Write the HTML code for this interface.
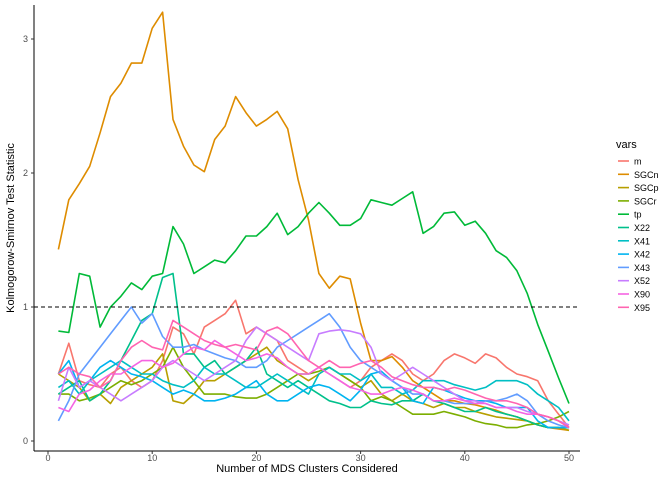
<!DOCTYPE html>
<html><head><meta charset="utf-8"><style>
html,body{margin:0;padding:0;background:#fff;}
svg{display:block;font-family:"Liberation Sans",sans-serif;}
</style></head><body>
<svg id="chart" width="672" height="480" viewBox="0 0 672 480">
<rect width="672" height="480" fill="#fff"/>
<g id="series"></g>
<g id="axes"></g>
<g id="legend"></g>
<text x="307" y="472" font-size="11" text-anchor="middle" fill="#000">Number of MDS Clusters Considered</text>
<text transform="translate(14,228) rotate(-90)" font-size="11" text-anchor="middle" fill="#000">Kolmogorow-Smirnov Test Statistic</text>
</svg>
<script>
const seriesNames = ["m","SGCn","SGCp","SGCr","tp","X22","X41","X42","X43","X52","X90","X95"];
const seriesColors = ["#F8766D","#DE8C00","#B79F00","#7CAE00","#00BA38","#00C08B","#00BFC4","#00B4F0","#619CFF","#C77CFF","#F564E3","#FF64B0"];
const xTicks = [0,10,20,30,40,50];
const yTicks = [0,1,2,3];
const threshold = 1;
const m = [0.5,0.73,0.45,0.42,0.4,0.5,0.55,0.45,0.4,0.45,0.6,0.85,0.8,0.65,0.85,0.9,0.95,1.05,0.8,0.85,0.8,0.75,0.6,0.55,0.5,0.55,0.5,0.45,0.4,0.45,0.55,0.6,0.65,0.6,0.5,0.45,0.5,0.6,0.65,0.62,0.58,0.65,0.62,0.55,0.5,0.48,0.45,0.3,0.2,0.1];
const SGCn = [1.43,1.8,1.92,2.05,2.3,2.57,2.67,2.82,2.82,3.08,3.2,2.4,2.2,2.06,2.01,2.25,2.35,2.57,2.45,2.35,2.4,2.46,2.33,1.95,1.65,1.25,1.14,1.23,1.21,0.88,0.6,0.6,0.63,0.55,0.45,0.4,0.35,0.3,0.3,0.28,0.27,0.25,0.23,0.2,0.18,0.15,0.12,0.1,0.09,0.08];
const SGCp = [0.5,0.45,0.4,0.3,0.35,0.28,0.4,0.45,0.5,0.55,0.65,0.3,0.28,0.35,0.45,0.45,0.5,0.55,0.6,0.65,0.7,0.6,0.55,0.5,0.45,0.5,0.55,0.5,0.45,0.4,0.45,0.35,0.3,0.35,0.3,0.28,0.25,0.28,0.25,0.25,0.22,0.2,0.18,0.17,0.16,0.15,0.12,0.1,0.1,0.08];
const SGCr = [0.35,0.35,0.3,0.32,0.35,0.4,0.45,0.42,0.45,0.5,0.55,0.7,0.55,0.45,0.35,0.35,0.35,0.33,0.32,0.32,0.35,0.4,0.45,0.5,0.5,0.52,0.55,0.5,0.45,0.4,0.3,0.33,0.3,0.25,0.2,0.2,0.2,0.22,0.2,0.18,0.15,0.13,0.12,0.1,0.1,0.12,0.13,0.15,0.18,0.22];
const tp = [0.82,0.81,1.25,1.23,0.85,1.0,1.08,1.18,1.13,1.23,1.25,1.6,1.47,1.25,1.3,1.35,1.33,1.42,1.53,1.53,1.6,1.7,1.54,1.6,1.7,1.78,1.7,1.61,1.61,1.66,1.8,1.78,1.76,1.81,1.86,1.55,1.6,1.7,1.71,1.61,1.64,1.55,1.42,1.37,1.27,1.1,0.87,0.67,0.47,0.28];
const X22 = [0.35,0.4,0.45,0.3,0.35,0.45,0.6,0.75,0.9,0.95,1.22,1.25,0.65,0.65,0.55,0.6,0.5,0.55,0.6,0.7,0.5,0.45,0.4,0.45,0.4,0.35,0.3,0.28,0.25,0.25,0.3,0.28,0.27,0.3,0.3,0.35,0.3,0.28,0.25,0.22,0.22,0.25,0.22,0.2,0.18,0.15,0.12,0.1,0.1,0.1];
const X41 = [0.4,0.45,0.35,0.45,0.5,0.55,0.6,0.55,0.5,0.5,0.45,0.42,0.4,0.45,0.55,0.5,0.5,0.45,0.4,0.4,0.45,0.5,0.45,0.4,0.35,0.5,0.55,0.5,0.5,0.45,0.5,0.4,0.4,0.35,0.38,0.45,0.45,0.45,0.42,0.4,0.38,0.4,0.45,0.45,0.45,0.42,0.35,0.3,0.25,0.15];
const X42 = [0.5,0.6,0.4,0.45,0.55,0.6,0.55,0.5,0.48,0.45,0.4,0.35,0.38,0.35,0.3,0.3,0.32,0.35,0.4,0.45,0.35,0.3,0.3,0.35,0.4,0.42,0.4,0.35,0.3,0.38,0.5,0.52,0.45,0.4,0.3,0.28,0.4,0.38,0.35,0.32,0.3,0.3,0.28,0.25,0.25,0.25,0.15,0.1,0.1,0.1];
const X43 = [0.15,0.3,0.5,0.6,0.7,0.8,0.9,1.0,0.88,0.95,0.78,0.7,0.7,0.72,0.68,0.65,0.62,0.6,0.55,0.55,0.6,0.7,0.75,0.8,0.85,0.9,0.95,0.85,0.7,0.6,0.55,0.5,0.45,0.4,0.35,0.35,0.3,0.3,0.28,0.28,0.28,0.3,0.3,0.32,0.35,0.3,0.2,0.15,0.12,0.1];
const X52 = [0.3,0.55,0.4,0.45,0.4,0.35,0.3,0.35,0.4,0.45,0.55,0.6,0.55,0.5,0.45,0.5,0.55,0.6,0.75,0.85,0.8,0.75,0.7,0.65,0.6,0.8,0.82,0.83,0.82,0.8,0.7,0.5,0.45,0.5,0.55,0.5,0.45,0.4,0.35,0.3,0.3,0.28,0.25,0.25,0.25,0.22,0.2,0.18,0.15,0.12];
const X90 = [0.25,0.22,0.35,0.38,0.45,0.5,0.5,0.55,0.6,0.6,0.55,0.58,0.65,0.7,0.68,0.75,0.7,0.65,0.6,0.62,0.65,0.62,0.55,0.5,0.5,0.55,0.5,0.45,0.4,0.38,0.35,0.35,0.38,0.4,0.38,0.35,0.3,0.3,0.32,0.3,0.28,0.28,0.25,0.25,0.22,0.2,0.2,0.18,0.15,0.1];
const X95 = [0.5,0.55,0.5,0.48,0.4,0.45,0.6,0.7,0.75,0.7,0.68,0.9,0.85,0.8,0.75,0.72,0.7,0.72,0.7,0.68,0.82,0.85,0.8,0.7,0.6,0.55,0.6,0.55,0.55,0.58,0.6,0.55,0.48,0.45,0.42,0.4,0.4,0.38,0.4,0.38,0.35,0.32,0.3,0.3,0.28,0.25,0.2,0.18,0.15,0.1];
const seriesValues = [m,SGCn,SGCp,SGCr,tp,X22,X41,X42,X43,X52,X90,X95];

const NS="http://www.w3.org/2000/svg";
const xScale = v => 48 + v*10.42;
const yScale = v => 441 - v*134;
function mk(tag, attrs, parent){const e=document.createElementNS(NS,tag);for(const k in attrs)e.setAttribute(k,attrs[k]);parent.appendChild(e);return e;}

const ser=document.getElementById('series');
seriesValues.forEach((vals,i)=>{
  const pts=vals.map((v,j)=>xScale(j+1).toFixed(1)+","+yScale(v).toFixed(1)).join(" ");
  const pl=mk('polyline',{points:pts,fill:'none',stroke:seriesColors[i],'stroke-width':1.6,'stroke-linejoin':'round'},ser);
  
  
});
const dl=mk('line',{x1:34,x2:580,y1:yScale(threshold),y2:yScale(threshold),stroke:'#000','stroke-dasharray':'4,3','stroke-width':1},ser);



const ax=document.getElementById('axes');
mk('line',{x1:34,x2:34,y1:5,y2:451,stroke:'#000','stroke-width':1},ax);
mk('line',{x1:34,x2:580,y1:451,y2:451,stroke:'#000','stroke-width':1},ax);
xTicks.forEach(t=>{
  const x=xScale(t);
  mk('line',{x1:x,x2:x,y1:451,y2:454,stroke:'#333'},ax);
  const tx=mk('text',{x:x,y:461,'font-size':9,'text-anchor':'middle',fill:'#4d4d4d'},ax);
  tx.textContent=t;
  
  
});
yTicks.forEach(t=>{
  const y=yScale(t);
  mk('line',{x1:31,x2:34,y1:y,y2:y,stroke:'#333'},ax);
  const tx=mk('text',{x:28,y:y+3,'font-size':9,'text-anchor':'end',fill:'#4d4d4d'},ax);
  tx.textContent=t;
  
  
});

const lg=document.getElementById('legend');
const tt=mk('text',{x:616,y:148,'font-size':11,fill:'#000'},lg);
tt.textContent='vars';


seriesNames.forEach((n,i)=>{
  const y=161+i*13.3;
  const g=mk('g',{},lg);
  
  
  mk('line',{x1:618,x2:629,y1:y,y2:y,stroke:seriesColors[i],'stroke-width':1.6},g);
  const t=mk('text',{x:634,y:y+3.5,'font-size':9,fill:'#000'},g);
  t.textContent=n;
});
</script>
</body></html>
